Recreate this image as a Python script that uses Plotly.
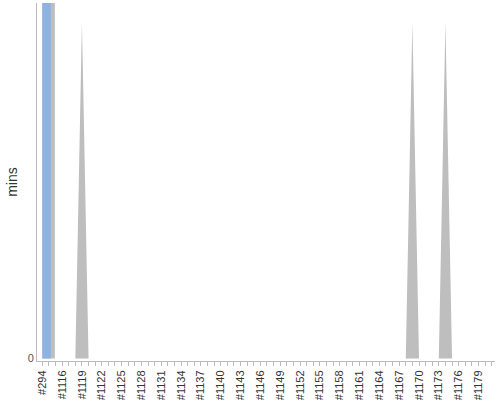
import plotly.graph_objs as go

# Build categories (job ids) along the x axis
cats = ["#294",
        "#1114", "#1115", "#1116", "#1117", "#1118", "#1119", "#1120", "#1121",
        "#1122", "#1123", "#1124", "#1125", "#1126", "#1127", "#1128", "#1129",
        "#1130", "#1131", "#1132", "#1133", "#1134", "#1135", "#1136", "#1137",
        "#1138", "#1139", "#1140", "#1141", "#1142", "#1143", "#1144", "#1145",
        "#1146", "#1147", "#1148", "#1149", "#1150", "#1151", "#1152", "#1153",
        "#1154", "#1155", "#1156", "#1157", "#1158", "#1159", "#1160", "#1161",
        "#1162", "#1163", "#1164", "#1165", "#1166", "#1167", "#1168", "#1169",
        "#1170", "#1171", "#1172", "#1173", "#1174", "#1175", "#1176", "#1177",
        "#1178", "#1179", "#1180", "#1181"]

# bar series (only #294 has a value, it runs off the top)
bar_cats = ["#294"]
blue_mins = [60]
gray_mins = [60]

# gray spikes
spike_cats = ["#1119", "#1169", "#1174"]
spike_mins = [47.3, 47.3, 47.3]

idx = list(range(len(cats)))
bar_x = [cats.index(c) for c in bar_cats]
spike_vals = [0] * len(cats)
for c, v in zip(spike_cats, spike_mins):
    spike_vals[cats.index(c)] = v

GRAY = "#bebebe"
BLUE = "#8db3e2"

fig = go.Figure()
fig.add_trace(go.Scatter(
    x=idx, y=spike_vals, mode="lines", fill="tozeroy",
    line=dict(width=0, color=GRAY), fillcolor=GRAY,
    hoverinfo="skip", showlegend=False))
fig.add_trace(go.Bar(
    x=bar_x, y=gray_mins, marker_color=GRAY, marker_line_width=0,
    width=1.9, offset=0, showlegend=False))
fig.add_trace(go.Bar(
    x=bar_x, y=blue_mins, marker_color=BLUE, marker_line_width=0,
    width=1.3, offset=0, showlegend=False))

ticktext = [c if i % 3 == 0 else "" for i, c in enumerate(cats)]

fig.update_layout(
    width=500, height=400,
    margin=dict(l=37, r=5, t=3, b=39),
    plot_bgcolor="white", paper_bgcolor="white",
    barmode="overlay",
    font=dict(family="Liberation Sans, Arial", size=10, color="#444"),
    xaxis=dict(
        range=[-0.8, 68.5], tickvals=idx, ticktext=ticktext,
        tickangle=-90, ticks="outside", ticklen=4, tickcolor="#bbb",
        showline=True, linecolor="#bbb", showgrid=False, zeroline=False,
        automargin=False, tickfont=dict(size=11, color="#333")),
    yaxis=dict(
        range=[-0.35, 50], tickvals=[0], ticktext=["0"],
        showline=True, linecolor="#bbb", showgrid=False, zeroline=False,
        ticks="", automargin=False,
        tickfont=dict(size=11, color="#555"),
        title=dict(text="mins", font=dict(size=14, color="#333"), standoff=6)),
)

# page body has a default margin; drop it so the chart sits at 0,0
fig.write_html("out.html", config={"displayModeBar": False},
               post_script="document.body.style.margin='0';")
